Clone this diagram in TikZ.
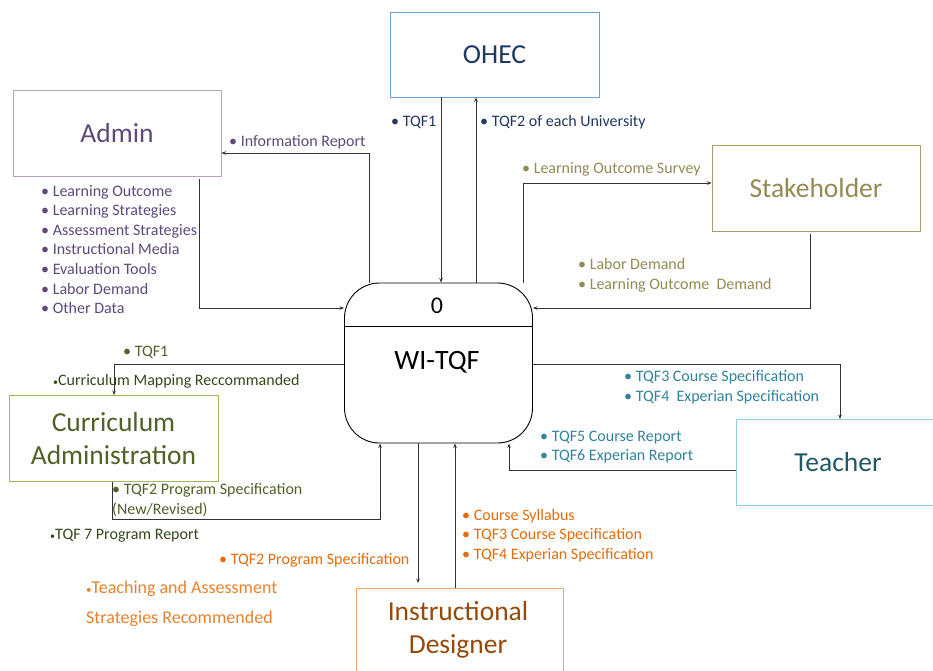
\documentclass[tikz,border=0pt]{standalone}
\usepackage{fontspec}
\setmainfont{Carlito}
\usetikzlibrary{arrows.meta,calc}

\definecolor{navy}{HTML}{1F3864}
\definecolor{navyln}{HTML}{6F9BD4}
\definecolor{plum}{HTML}{5F497A}
\definecolor{plumln}{HTML}{B3A2C7}
\definecolor{olive}{HTML}{948A54}
\definecolor{oliveln}{HTML}{A89C68}
\definecolor{leaf}{HTML}{4F6228}
\definecolor{leafdk}{HTML}{34491C}
\definecolor{leafln}{HTML}{9BBB59}
\definecolor{teal}{HTML}{31849B}
\definecolor{tealdk}{HTML}{215868}
\definecolor{tealln}{HTML}{92CDDC}
\definecolor{rust}{HTML}{E46C0A}
\definecolor{rustdk}{HTML}{984807}
\definecolor{rustln}{HTML}{F5A868}
\definecolor{wire}{HTML}{333333}

\newcommand{\smallbul}{{\fontsize{10}{12}\selectfont•}}

\tikzset{
  entity/.style={draw, line width=0.9pt, minimum width=208pt, minimum height=86pt,
    align=center, font=\fontsize{27.5}{33}\selectfont, inner sep=0pt},
  flowlbl/.style={anchor=west, inner sep=0pt, font=\fontsize{16}{19.6}\selectfont, align=left},
  flow/.style={draw=wire, line width=0.8pt, -{Stealth[length=4.5pt,width=3.5pt]}},
}

\begin{document}
\begin{tikzpicture}[x=1pt,y=-1pt]
\clip (0,0) rectangle (933,670);
\fill[white] (0,0) rectangle (933,670);

% external entities
\node[entity, draw=navyln, text=navy, minimum width=209pt, minimum height=85pt] (ohec) at (494.5,54.5) {OHEC};
\node[entity, draw=plumln, text=plum] (admin) at (117,133) {Admin};
\node[entity, draw=oliveln, text=olive, minimum width=208pt] (stake) at (816,188) {Stakeholder};
\node[entity, draw=leafln, text=leaf, minimum width=209pt] (curr) at (113.5,438.5) {Curriculum\\Administration};
\node[entity, draw=tealln, text=tealdk, minimum width=204pt] (teach) at (838,462.5) {Teacher};
\node[entity, draw=rustln, text=rustdk, minimum width=207pt, minimum height=100pt] (idsg) at (459.5,638) {};
\node[text=rustdk, font=\fontsize{27.5}{33}\selectfont, align=center, inner sep=0pt] (idtxt) at (458,629.5) {Instructional\\Designer};

% central process
\node[draw=black, line width=0.9pt, rounded corners=35pt, minimum width=188pt, minimum height=160pt] (wi) at (438.5,363) {};
\draw[black, line width=0.9pt] (wi.west |- 0,326) -- (wi.east |- 0,326);
\node[font=\fontsize{24}{28}\selectfont] (wizero) at (437,306) {0};
\node[font=\fontsize{28}{30}\selectfont] (winame) at (437,362) {WI-TQF};

% OHEC flows
\draw[flow] (441,0 |- ohec.south) -- (441,0 |- wi.north);
\draw[flow] (476,0 |- wi.north) -- (476,0 |- ohec.south);
\node[flowlbl, text=navy] (l1) at (391,122) {• TQF1};
\node[flowlbl, text=navy] (l2) at (480,122) {• TQF2 of each University};

% Admin flows
\draw[flow] (369,0 |- wi.north) -- (369,153) -- (admin.east |- 0,153);
\node[flowlbl, text=plum] (l3) at (229,142) {• Information Report};
\draw[flow] (199,179) -- (199,308) -- (wi.west |- 0,308);
\node[flowlbl, text=plum] (l4) at (41,249.5) {• Learning Outcome\\• Learning Strategies\\• Assessment Strategies\\• Instructional Media\\• Evaluation Tools\\• Labor Demand\\• Other Data};

% Stakeholder flows
\draw[flow] (523,0 |- wi.north) -- (523,183) -- (stake.west |- 0,183);
\node[flowlbl, text=olive] (l5) at (522,169) {• Learning Outcome Survey};
\draw[flow] (810,234) -- (810,308) -- (wi.east |- 0,308);
\node[flowlbl, text=olive] (l6) at (578,275.5) {• Labor Demand\\• Learning Outcome\ \ Demand};

% Curriculum Administration flows
\draw[flow] (wi.west |- 0,364) -- (114,364) -- (114,0 |- curr.north);
\node[flowlbl, text=leaf] (l7) at (123,352) {• TQF1};
\node[flowlbl, text=leafdk] (l8) at (53,381) {\smallbul Curriculum Mapping Reccommanded};
\draw[flow] (112,0 |- curr.south) -- (112,519) -- (380,519) -- (380,0 |- wi.south);
\node[flowlbl, text=leaf] (l9) at (112,500) {• TQF2 Program Specification\\(New/Revised)};
\node[flowlbl, text=leafdk] (l10) at (50,536) {\smallbul TQF 7 Program Report};

% Teacher flows
\draw[flow] (wi.east |- 0,364) -- (840,364) -- (840,0 |- teach.north);
\node[flowlbl, text=teal] (l11) at (624,387) {• TQF3 Course Specification\\• TQF4\ \ Experian Specification};
\draw[flow] (teach.west |- 0,470) -- (509,470) -- (509,0 |- wi.south);
\node[flowlbl, text=teal] (l12) at (540,447) {• TQF5 Course Report\\• TQF6 Experian Report};

% Instructional Designer flows
\draw[flow] (418,0 |- wi.south) -- (418,583);
\draw[flow] (455,0 |- idsg.north) -- (455,0 |- wi.south);
\node[flowlbl, text=rust] (l13) at (219,560) {• TQF2 Program Specification};
\node[flowlbl, text=rust] (l14) at (462,535.5) {• Course Syllabus\\• TQF3 Course Specification\\• TQF4 Experian Specification};
\node[flowlbl, text=rust!85, font=\fontsize{18}{30.5}\selectfont] (l15) at (86,604) {{\fontsize{11}{12}\selectfont•}Teaching and Assessment\\Strategies Recommended};
\end{tikzpicture}
\end{document}
